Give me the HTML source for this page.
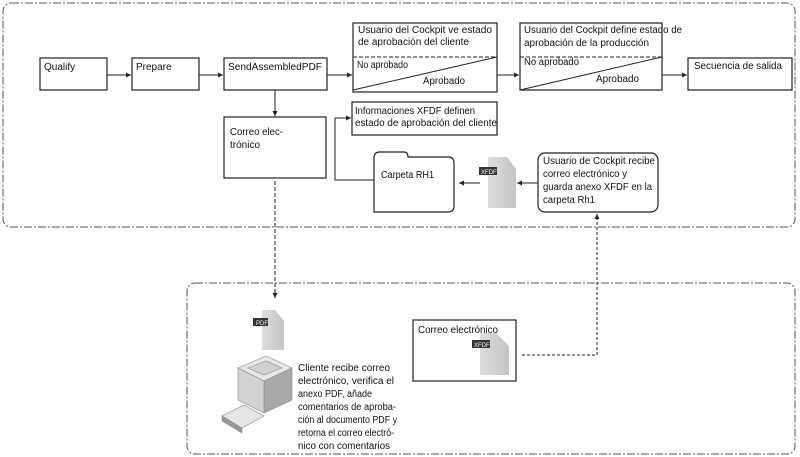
<!DOCTYPE html>
<html><head><meta charset="utf-8"><style>
html,body{margin:0;padding:0;background:#fff;}
svg{display:block;}
text{font-family:"Liberation Sans",sans-serif;font-size:10px;fill:#111;}
</style></head><body>
<svg width="800" height="457" viewBox="0 0 800 457" xmlns="http://www.w3.org/2000/svg">
<defs>
<marker id="a" markerWidth="6" markerHeight="6" refX="5" refY="3" orient="auto"><path d="M0,0.5 L5,3 L0,5.5z" fill="#222"/></marker>
<linearGradient id="doc" x1="0" x2="1"><stop offset="0" stop-color="#ddd"/><stop offset="1" stop-color="#c4c4c4"/></linearGradient>
</defs>
<g fill="none" stroke="#555" stroke-width="1" stroke-dasharray="8,2,2,2">
<rect x="3" y="3" width="792" height="224" rx="8"/>
<rect x="187" y="283" width="608" height="171" rx="8"/>
</g>
<g fill="#fff" stroke="#222" stroke-width="1.2">
<rect x="40" y="58" width="67" height="32"/>
<rect x="132" y="58" width="67" height="32"/>
<rect x="224" y="58" width="103" height="32"/>
<rect x="353" y="23" width="144" height="69"/>
<rect x="520" y="23" width="142" height="67"/>
<rect x="688" y="58" width="104" height="32"/>
<rect x="352" y="102" width="145" height="33"/>
<rect x="224" y="117" width="102" height="61"/>
<rect x="538" y="153" width="120" height="59" rx="7"/>
<rect x="413" y="320" width="103" height="61"/>
<path d="M374,212 L374,158 Q374,152 380,152 L404,152 Q408,152 408,157 L448,157 Q454,157 454,163 L454,206 Q454,212 448,212 Z"/>
</g>
<g stroke="#222" stroke-width="1" fill="none">
<line x1="353" y1="57" x2="497" y2="57" stroke-dasharray="4,2"/>
<line x1="353" y1="90" x2="497" y2="57"/>
<line x1="520" y1="57" x2="662" y2="57" stroke-dasharray="4,2"/>
<line x1="520" y1="90" x2="662" y2="57"/>
<line x1="107" y1="75" x2="131" y2="75" marker-end="url(#a)"/>
<line x1="199" y1="75" x2="223" y2="75" marker-end="url(#a)"/>
<line x1="327" y1="75" x2="352" y2="75" marker-end="url(#a)"/>
<line x1="497" y1="75" x2="519" y2="75" marker-end="url(#a)"/>
<line x1="662" y1="75" x2="687" y2="75" marker-end="url(#a)"/>
<line x1="275" y1="90" x2="275" y2="116" marker-end="url(#a)"/>
<polyline points="374,180 335,180 335,118 351,118" marker-end="url(#a)"/>
<line x1="538" y1="183" x2="517" y2="183" marker-end="url(#a)"/>
<line x1="480" y1="183" x2="459" y2="183" marker-end="url(#a)"/>
<line x1="275" y1="181" x2="275" y2="298" stroke-dasharray="4,2" marker-end="url(#a)"/>
<polyline points="522,355 597,355 597,214" stroke-dasharray="3,2" marker-end="url(#a)"/>
</g>
<g>
<path d="M488,157 L507,157 L516,169 L516,208 L488,208Z" fill="url(#doc)"/>
<rect x="479" y="167" width="18" height="8" fill="#333"/><text x="481" y="174" style="font-size:6px;fill:#fff">XFDF</text>
<path d="M262,310 L275,310 L284,321 L284,350 L262,350Z" fill="url(#doc)"/>
<rect x="253" y="318" width="15" height="8" fill="#333"/><text x="256" y="325" style="font-size:6px;fill:#fff">PDF</text>
<path d="M480,333 L496,333 L509,346 L509,375 L480,375Z" fill="url(#doc)"/>
<rect x="472" y="340" width="18" height="8" fill="#333"/><text x="474" y="347" style="font-size:6px;fill:#fff">XFDF</text>
</g>
<g stroke="#888" stroke-width="0.6">
<path d="M238,368 L266,356 L292,368 L264,381Z" fill="#e8e8e8"/>
<path d="M248,368 L266,361 L282,368 L264,375Z" fill="#d0d0d0"/>
<path d="M264,381 L292,368 L292,400 L264,413Z" fill="#a8a8a8"/>
<path d="M238,368 L264,381 L264,413 L238,400Z" fill="#d2d2d2"/>
<path d="M222,416 L244,405 L264,416 L242,428Z" fill="#e6e6e6"/>
<path d="M222,416 L242,428 L242,433 L222,421Z" fill="#999"/>
</g>
<text x="44" y="70">Qualify</text>
<text x="136" y="70">Prepare</text>
<text x="228" y="70" textLength="94" lengthAdjust="spacingAndGlyphs">SendAssembledPDF</text>
<text x="358" y="33" textLength="134" lengthAdjust="spacingAndGlyphs">Usuario del Cockpit ve estado</text>
<text x="358" y="45" textLength="111" lengthAdjust="spacingAndGlyphs">de aprobación del cliente</text>
<text x="357" y="68" textLength="51" lengthAdjust="spacingAndGlyphs">No aprobado</text>
<text x="423" y="84" textLength="42" lengthAdjust="spacingAndGlyphs">Aprobado</text>
<text x="524" y="33" textLength="158" lengthAdjust="spacingAndGlyphs">Usuario del Cockpit define estado de</text>
<text x="524" y="46" textLength="125" lengthAdjust="spacingAndGlyphs">aprobación de la producción</text>
<text x="524" y="65" textLength="55" lengthAdjust="spacingAndGlyphs">No aprobado</text>
<text x="596" y="82" textLength="43" lengthAdjust="spacingAndGlyphs">Aprobado</text>
<text x="694" y="69" textLength="88" lengthAdjust="spacingAndGlyphs">Secuencia de salida</text>
<text x="355" y="114" textLength="120" lengthAdjust="spacingAndGlyphs">Informaciones XFDF definen</text>
<text x="355" y="126" textLength="142" lengthAdjust="spacingAndGlyphs">estado de aprobación del cliente</text>
<text x="230" y="135" textLength="53" lengthAdjust="spacingAndGlyphs">Correo elec-</text>
<text x="230" y="148">trónico</text>
<text x="381" y="178" textLength="53" lengthAdjust="spacingAndGlyphs">Carpeta RH1</text>
<text x="543" y="164" textLength="112" lengthAdjust="spacingAndGlyphs">Usuario de Cockpit recibe</text>
<text x="543" y="177" textLength="84" lengthAdjust="spacingAndGlyphs">correo electrónico y</text>
<text x="543" y="190" textLength="109" lengthAdjust="spacingAndGlyphs">guarda anexo XFDF en la</text>
<text x="543" y="203" textLength="52" lengthAdjust="spacingAndGlyphs">carpeta Rh1</text>
<text x="418" y="333" textLength="80" lengthAdjust="spacingAndGlyphs">Correo electrónico</text>
<text x="298" y="371" textLength="92" lengthAdjust="spacingAndGlyphs">Cliente recibe correo</text>
<text x="298" y="384" textLength="96" lengthAdjust="spacingAndGlyphs">electrónico, verifica el</text>
<text x="298" y="397" textLength="74" lengthAdjust="spacingAndGlyphs">anexo PDF, añade</text>
<text x="298" y="410" textLength="98" lengthAdjust="spacingAndGlyphs">comentarios de aproba-</text>
<text x="298" y="423" textLength="99" lengthAdjust="spacingAndGlyphs">ción al documento PDF y</text>
<text x="298" y="436" textLength="96" lengthAdjust="spacingAndGlyphs">retorna el correo electró-</text>
<text x="298" y="449" textLength="92" lengthAdjust="spacingAndGlyphs">nico con comentarios</text>
</svg>
</body></html>
